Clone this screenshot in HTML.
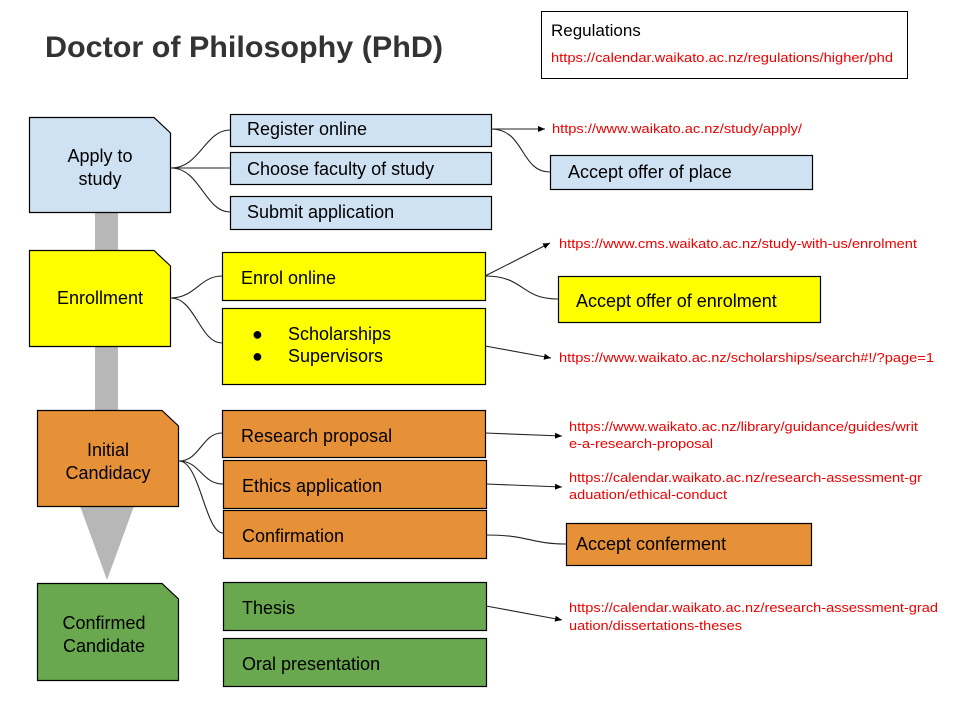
<!DOCTYPE html>
<html><head><meta charset="utf-8"><style>
body{margin:0;background:#fff}
svg{display:block;font-family:"Liberation Sans",Arial,sans-serif}
</style></head><body>
<svg width="960" height="720" viewBox="0 0 960 720">
<defs><marker id="a" markerWidth="8" markerHeight="8" refX="7" refY="4" orient="auto" markerUnits="userSpaceOnUse"><path d="M0,1 L7,4 L0,7 Z" fill="#000"/></marker></defs>
<rect width="960" height="720" fill="#fff"/>
<text x="45" y="57" font-size="30" font-weight="bold" fill="#333" textLength="398" lengthAdjust="spacingAndGlyphs">Doctor of Philosophy (PhD)</text>
<rect x="541.5" y="11.5" width="366" height="67" fill="#fff" stroke="#000"/>
<text x="551" y="36" font-size="17">Regulations</text>
<text x="551" y="62" font-size="13" fill="#e00" textLength="342" lengthAdjust="spacingAndGlyphs">https://calendar.waikato.ac.nz/regulations/higher/phd</text>
<rect x="95" y="212" width="23" height="295" fill="#b7b7b7"/>
<path d="M80,506 L134,506 L107,580 Z" fill="#b7b7b7"/>
<g stroke="#000" stroke-width="1.2">
<path d="M29.5,117.5 H154 L170.5,133 V212.5 H29.5 Z" fill="#cfe2f3"/>
<path d="M29.5,250.5 H154 L170.5,266 V346.5 H29.5 Z" fill="#ffff00"/>
<path d="M37.5,410.5 H162 L178.5,426 V506.5 H37.5 Z" fill="#e69138"/>
<path d="M37.5,583.5 H162 L178.5,599 V680.5 H37.5 Z" fill="#6aa84f"/>
<rect x="230.5" y="114.5" width="261" height="32" fill="#cfe2f3"/>
<rect x="230.5" y="152.5" width="261" height="32" fill="#cfe2f3"/>
<rect x="230.5" y="196.5" width="261" height="33" fill="#cfe2f3"/>
<rect x="222.5" y="252.5" width="263" height="48" fill="#ffff00"/>
<rect x="222.5" y="308.5" width="263" height="76" fill="#ffff00"/>
<rect x="222.5" y="410.5" width="263" height="47" fill="#e69138"/>
<rect x="223.5" y="460.5" width="263" height="48" fill="#e69138"/>
<rect x="223.5" y="510.5" width="263" height="48" fill="#e69138"/>
<rect x="223.5" y="582.5" width="263" height="48" fill="#6aa84f"/>
<rect x="223.5" y="638.5" width="263" height="48" fill="#6aa84f"/>
<rect x="550.5" y="155.5" width="262" height="34" fill="#cfe2f3"/>
<rect x="558.5" y="276.5" width="262" height="46" fill="#ffff00"/>
<rect x="566.5" y="523.5" width="245" height="42" fill="#e69138"/>
</g>
<g font-size="18" fill="#000">
<text x="100" y="162" text-anchor="middle">Apply to</text>
<text x="100" y="185" text-anchor="middle">study</text>
<text x="100" y="304" text-anchor="middle">Enrollment</text>
<text x="108" y="456" text-anchor="middle">Initial</text>
<text x="108" y="479" text-anchor="middle">Candidacy</text>
<text x="104" y="629" text-anchor="middle">Confirmed</text>
<text x="104" y="652" text-anchor="middle">Candidate</text>
<text x="247" y="135">Register online</text>
<text x="247" y="175">Choose faculty of study</text>
<text x="247" y="218">Submit application</text>
<text x="241" y="284">Enrol online</text>
<text x="252" y="340">●</text><text x="288" y="340">Scholarships</text>
<text x="252" y="362">●</text><text x="288" y="362">Supervisors</text>
<text x="241" y="442">Research proposal</text>
<text x="242" y="492">Ethics application</text>
<text x="242" y="542">Confirmation</text>
<text x="242" y="614">Thesis</text>
<text x="242" y="670">Oral presentation</text>
<text x="568" y="178">Accept offer of place</text>
<text x="576" y="307">Accept offer of enrolment</text>
<text x="576" y="550">Accept conferment</text>
</g>
<g font-size="13" fill="#e00">
<text x="552" y="133" textLength="250" lengthAdjust="spacingAndGlyphs">https://www.waikato.ac.nz/study/apply/</text>
<text x="559" y="248" textLength="358" lengthAdjust="spacingAndGlyphs">https://www.cms.waikato.ac.nz/study-with-us/enrolment</text>
<text x="559" y="362" textLength="375" lengthAdjust="spacingAndGlyphs">https://www.waikato.ac.nz/scholarships/search#!/?page=1</text>
<text x="569" y="431" textLength="349" lengthAdjust="spacingAndGlyphs">https://www.waikato.ac.nz/library/guidance/guides/writ</text>
<text x="569" y="448" textLength="144" lengthAdjust="spacingAndGlyphs">e-a-research-proposal</text>
<text x="569" y="482" textLength="353" lengthAdjust="spacingAndGlyphs">https://calendar.waikato.ac.nz/research-assessment-gr</text>
<text x="569" y="499" textLength="158" lengthAdjust="spacingAndGlyphs">aduation/ethical-conduct</text>
<text x="569" y="612" textLength="369" lengthAdjust="spacingAndGlyphs">https://calendar.waikato.ac.nz/research-assessment-grad</text>
<text x="569" y="630" textLength="173" lengthAdjust="spacingAndGlyphs">uation/dissertations-theses</text>
</g>
<g fill="none" stroke="#222" stroke-width="1.1">
<path d="M171,168 C200,168 205,130 230,130"/>
<path d="M171,168 H230"/>
<path d="M171,168 C200,168 205,212 230,212"/>
<path d="M171,298 C195,298 200,276 222,276"/>
<path d="M171,298 C195,298 200,343 222,343"/>
<path d="M179,461 C200,461 202,433 222,433"/>
<path d="M179,461 C200,461 202,484 223,484"/>
<path d="M179,461 C200,461 205,533 223,533"/>
<path d="M491,129 H545" marker-end="url(#a)"/>
<path d="M491,129 C525,129 520,172 550,172"/>
<path d="M485,276 L550,243" marker-end="url(#a)"/>
<path d="M485,276 C525,276 520,299 558,299"/>
<path d="M485,346 L551,358" marker-end="url(#a)"/>
<path d="M485,433 L562,436" marker-end="url(#a)"/>
<path d="M486,484 L562,487" marker-end="url(#a)"/>
<path d="M486,535 C530,535 530,544 566,544"/>
<path d="M486,606 L562,620" marker-end="url(#a)"/>
</g>
</svg>
</body></html>
